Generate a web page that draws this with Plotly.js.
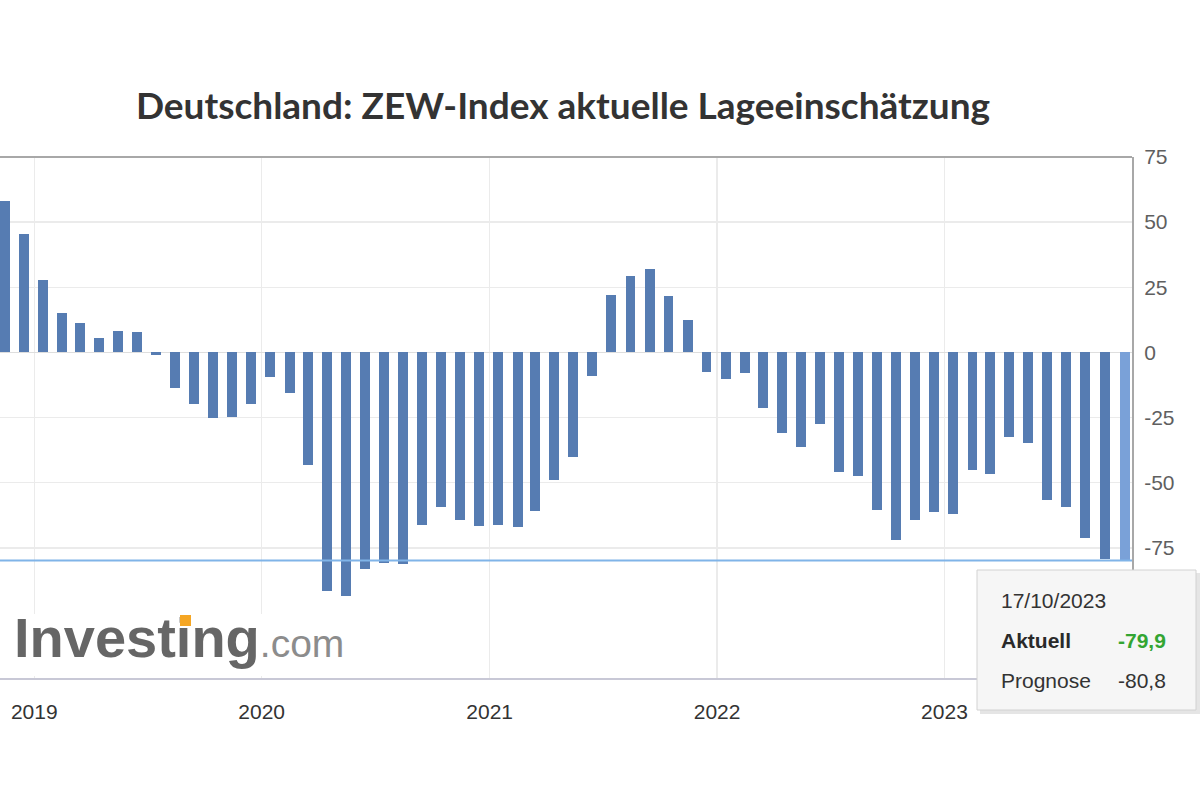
<!DOCTYPE html>
<html>
<head>
<meta charset="utf-8">
<script src="https://cdn.plot.ly/plotly-3.0.1.min.js"></script>
<style>
  html, body { margin: 0; padding: 0; background: #ffffff; }
  #chart { width: 1200px; height: 800px; }
</style>
</head>
<body>
<div id="chart"></div>
<script>
// Release months of the ZEW current-situation index for Germany
const releaseDates = [
  '2018-11-15', '2018-12-15',
  '2019-01-15', '2019-02-15', '2019-03-15', '2019-04-15', '2019-05-15', '2019-06-15',
  '2019-07-15', '2019-08-15', '2019-09-15', '2019-10-15', '2019-11-15', '2019-12-15',
  '2020-01-15', '2020-02-15', '2020-03-15', '2020-04-15', '2020-05-15', '2020-06-15',
  '2020-07-15', '2020-08-15', '2020-09-15', '2020-10-15', '2020-11-15', '2020-12-15',
  '2021-01-15', '2021-02-15', '2021-03-15', '2021-04-15', '2021-05-15', '2021-06-15',
  '2021-07-15', '2021-08-15', '2021-09-15', '2021-10-15', '2021-11-15', '2021-12-15',
  '2022-01-15', '2022-02-15', '2022-03-15', '2022-04-15', '2022-05-15', '2022-06-15',
  '2022-07-15', '2022-08-15', '2022-09-15', '2022-10-15', '2022-11-15', '2022-12-15',
  '2023-01-15', '2023-02-15', '2023-03-15', '2023-04-15', '2023-05-15', '2023-06-15',
  '2023-07-15', '2023-08-15', '2023-09-15', '2023-10-17'
];

// Index values (points)
const indexValues = [
  58.2, 45.3,
  27.6, 15.0, 11.1, 5.5, 8.2, 7.8,
  -1.1, -13.5, -19.9, -25.3, -24.7, -19.9,
  -9.5, -15.7, -43.1, -91.5, -93.5, -83.1,
  -80.9, -81.3, -66.2, -59.5, -64.3, -66.5,
  -66.4, -67.2, -61.0, -48.8, -40.1, -9.1,
  21.9, 29.3, 31.9, 21.6, 12.5, -7.4,
  -10.2, -8.1, -21.4, -30.8, -36.5, -27.6,
  -45.8, -47.6, -60.5, -72.2, -64.5, -61.4,
  -61.9, -45.1, -46.5, -32.5, -34.8, -56.5,
  -59.5, -71.3, -79.4, -79.9
];

const yTickValues = [75, 50, 25, 0, -25, -50, -75];
const yTickLabels = ['75', '50', '25', '0', '-25', '-50', '-75'];

const chartTitle = 'Deutschland: ZEW-Index aktuelle Lageeinschätzung';
const tooltipDate = '17/10/2023';
const actualLabel = 'Aktuell';
const forecastLabel = 'Prognose';
const forecastValue = -80.8;

// ---- geometry helpers (plot area: 0..1132 px wide, 157..678 px tall) ----
const M = { l: 0, r: 68, t: 157, b: 122 };
const PW = 1200 - M.l - M.r;
const PH = 800 - M.t - M.b;
const px = x => (x - M.l) / PW;
const py = y => (800 - M.b - y) / PH;

const fmt = v => v.toFixed(1).replace('.', ',');
const latest = indexValues[indexValues.length - 1];

const barColors = indexValues.map((_, i) =>
  i === indexValues.length - 1 ? '#7aa1d8' : '#567cb2');

const DAY = 86400000;

const trace = {
  type: 'bar',
  x: releaseDates,
  y: indexValues,
  width: releaseDates.map(() => 16 * DAY),
  marker: { color: barColors, line: { width: 0 } },
  hoverinfo: 'skip'
};

const axisFont = { family: 'Liberation Sans, Arial, sans-serif', size: 21 };
const tipFont = 'Liberation Sans, Arial, sans-serif';

const layout = {
  width: 1200,
  height: 800,
  margin: M,
  paper_bgcolor: '#ffffff',
  plot_bgcolor: '#ffffff',
  showlegend: false,
  bargap: 0,
  title: {
    text: '<b>' + chartTitle + '</b>',
    font: { family: 'Lato, Open Sans, sans-serif', size: 37, color: '#333333' },
    x: 563 / 1200, xref: 'container', xanchor: 'center',
    y: 1 - 106 / 800, yref: 'container', yanchor: 'middle'
  },
  xaxis: {
    type: 'date',
    range: ['2018-11-07', '2023-10-29'],
    tick0: '2019-01-01',
    dtick: 'M12',
    tickformat: '%Y',
    showgrid: true,
    gridcolor: '#ebebeb',
    gridwidth: 1.5,
    showline: true,
    linecolor: '#c8c8d6',
    linewidth: 2,
    ticks: 'outside',
    ticklen: 14,
    tickcolor: 'rgba(0,0,0,0)',
    tickfont: Object.assign({ color: '#333333' }, axisFont),
    zeroline: false,
    fixedrange: true
  },
  yaxis: {
    side: 'right',
    range: [-125, 75],
    tickvals: yTickValues,
    ticktext: yTickLabels,
    showgrid: true,
    gridcolor: '#ebebeb',
    gridwidth: 1.5,
    zeroline: true,
    zerolinecolor: '#dedede',
    zerolinewidth: 1.5,
    showline: true,
    linecolor: '#a8a8a8',
    linewidth: 2,
    ticks: 'outside',
    ticklen: 6,
    tickcolor: 'rgba(0,0,0,0)',
    tickfont: Object.assign({ color: '#5f5f5f' }, axisFont),
    fixedrange: true
  },
  shapes: [
    // frame top edge
    { type: 'line', xref: 'paper', yref: 'paper', x0: 0, x1: 1, y0: 1, y1: 1,
      line: { color: '#a8a8a8', width: 2 } },
    // crosshair at the latest reading
    { type: 'line', xref: 'paper', yref: 'y', x0: 0, x1: 1, y0: latest, y1: latest,
      line: { color: '#80b4e8', width: 2 }, layer: 'above' },
    // logo backdrop
    { type: 'rect', xref: 'paper', yref: 'paper', x0: px(0), x1: px(366), y0: py(676), y1: py(614),
      fillcolor: '#ffffff', line: { width: 0 }, layer: 'above' },
    // tooltip shadow
    { type: 'rect', xref: 'paper', yref: 'paper', x0: px(980), x1: px(1200), y0: py(714), y1: py(573),
      fillcolor: 'rgba(0,0,0,0.10)', line: { width: 0 }, layer: 'above' },
    // tooltip box
    { type: 'rect', xref: 'paper', yref: 'paper', x0: px(977), x1: px(1196), y0: py(710), y1: py(570),
      fillcolor: '#f6f6f6', line: { color: '#d2d2d2', width: 1 }, layer: 'above' }
  ],
  annotations: [
    // watermark logo
    { xref: 'paper', yref: 'paper', x: px(12), y: py(637), xanchor: 'left', yanchor: 'middle',
      showarrow: false,
      text: '<b>Investing</b><span style="font-size:39px;color:#8c8c8c">.com</span>',
      font: { family: 'Liberation Sans, Arial, sans-serif', size: 56, color: '#666666' } },
    // orange dot of the logo's "i"
    { xref: 'paper', yref: 'paper', x: px(185.5), y: py(620), xanchor: 'center', yanchor: 'middle',
      showarrow: false, text: ' ', width: 11, height: 11, borderpad: 0, borderwidth: 0,
      bgcolor: '#f5a623', font: { size: 4 } },
    // tooltip content
    { xref: 'paper', yref: 'paper', x: px(999), y: py(600), xanchor: 'left', yanchor: 'middle',
      showarrow: false, text: tooltipDate,
      font: { family: tipFont, size: 21, color: '#333333' } },
    { xref: 'paper', yref: 'paper', x: px(999), y: py(640), xanchor: 'left', yanchor: 'middle',
      showarrow: false, text: '<b>' + actualLabel + '</b>',
      font: { family: tipFont, size: 21, color: '#2a2a2a' } },
    { xref: 'paper', yref: 'paper', x: px(1168), y: py(640), xanchor: 'right', yanchor: 'middle',
      showarrow: false, text: '<b>' + fmt(latest) + '</b>',
      font: { family: tipFont, size: 21, color: '#33a532' } },
    { xref: 'paper', yref: 'paper', x: px(999), y: py(680), xanchor: 'left', yanchor: 'middle',
      showarrow: false, text: forecastLabel,
      font: { family: tipFont, size: 21, color: '#333333' } },
    { xref: 'paper', yref: 'paper', x: px(1168), y: py(680), xanchor: 'right', yanchor: 'middle',
      showarrow: false, text: fmt(forecastValue),
      font: { family: tipFont, size: 21, color: '#333333' } }
  ]
};

Plotly.newPlot('chart', [trace], layout, { staticPlot: true, displayModeBar: false });
</script>
</body>
</html>
